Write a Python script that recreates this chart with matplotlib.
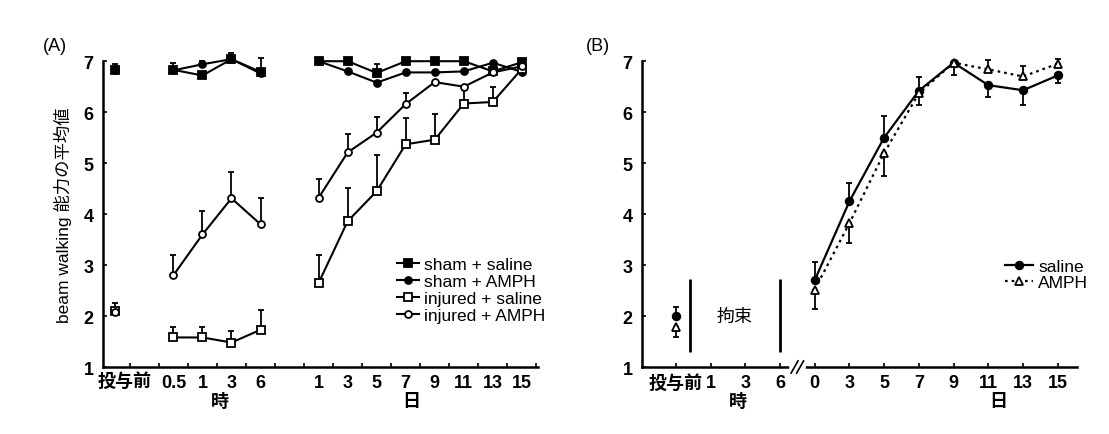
import numpy as np
import matplotlib
matplotlib.use('Agg')
from matplotlib import pyplot as plt

plt.rcParams['font.family'] = ['Liberation Sans', 'Noto Sans CJK JP', 'DejaVu Sans']

# (A) 横軸の目盛ラベル
labels_a = ['投与前', '0.5', '1', '3', '6', '1', '3', '5', '7', '9', '11', '13', '15']
pos_a = [0, 2, 3, 4, 5, 7, 8, 9, 10, 11, 12, 13, 14]

# (A) 各群の平均値と誤差(上方向のみ)
sham_saline = [6.82, 6.83, 6.72, 7.04, 6.79, 7.0, 7.0, 6.77, 7.0, 7.0, 7.0, 6.8, 6.98]
sham_saline_err = [0.13, 0.14, 0, 0.12, 0.27, 0, 0, 0.17, 0, 0, 0, 0, 0]
sham_amph = [6.82, 6.82, 6.94, 7.04, 6.76, 7.0, 6.8, 6.58, 6.78, 6.78, 6.8, 6.97, 6.79]
sham_amph_err = [0, 0, 0.07, 0, 0, 0, 0, 0, 0, 0, 0, 0, 0]
inj_saline = [2.1, 1.58, 1.58, 1.48, 1.73, 2.65, 3.86, 4.45, 5.37, 5.46, 6.17, 6.2, 6.85]
inj_saline_err = [0.16, 0.21, 0.21, 0.22, 0.38, 0.54, 0.65, 0.70, 0.51, 0.50, 0.3, 0.29, 0]
inj_amph = [2.08, 2.8, 3.6, 4.31, 3.8, 4.32, 5.21, 5.6, 6.16, 6.59, 6.5, 6.78, 6.9]
inj_amph_err = [0, 0.39, 0.47, 0.51, 0.51, 0.37, 0.37, 0.31, 0.21, 0, 0, 0, 0]

# (B) 横軸の目盛ラベル
labels_b = ['投与前', '1', '3', '6', '0', '3', '5', '7', '9', '11', '13', '15']
pos_b = [0, 4, 5, 6, 7, 8, 9, 10, 11]   # データのある位置
saline = [2.0, 2.7, 4.25, 5.5, 6.42, 6.97, 6.53, 6.43, 6.72]
saline_up = [0.17, 0.36, 0.36, 0.43, 0.27, 0, 0, 0, 0]
saline_dn = [0, 0, 0, 0, 0, 0, 0.23, 0.29, 0.15]
amph = [1.79, 2.52, 3.82, 5.2, 6.37, 6.97, 6.84, 6.70, 6.95]
amph_up = [0, 0, 0, 0, 0, 0, 0.19, 0.2, 0.1]
amph_dn = [0.2, 0.39, 0.38, 0.45, 0.23, 0.25, 0, 0, 0]

fig = plt.figure(figsize=(11.09, 4.35), dpi=100)
axA = fig.add_axes([0.093, 0.154, 0.392, 0.703])
axB = fig.add_axes([0.579, 0.154, 0.392, 0.703])

for ax in (axA, axB):
    ax.spines['top'].set_visible(False)
    ax.spines['right'].set_visible(False)
    ax.spines['left'].set_linewidth(1.8)
    ax.spines['bottom'].set_linewidth(1.8)
    ax.set_ylim(1, 7)
    ax.set_yticks(range(1, 8))
    ax.tick_params(axis='y', direction='in', length=3, width=1.2, labelsize=13, pad=7)
    for t in ax.get_yticklabels():
        t.set_fontweight('bold')

# ---- (A)
groups = [[0], [1, 2, 3, 4], list(range(5, 13))]
series = [
    (sham_saline, sham_saline_err, 's', 'black', 5.5, 'sham + saline'),
    (sham_amph, sham_amph_err, 'o', 'black', 5, 'sham + AMPH'),
    (inj_saline, inj_saline_err, 's', 'white', 5.5, 'injured + saline'),
    (inj_amph, inj_amph_err, 'o', 'white', 5, 'injured + AMPH'),
]
x_a = np.array(pos_a, dtype=float)
handles = []
for vals, err, mk, fc, ms, lab in series:
    vals = np.array(vals)
    err = np.array(err)
    for g in groups:
        h, = axA.plot(x_a[g], vals[g], '-', color='black', lw=1.5, marker=mk, mfc=fc,
                      mec='black', mew=1.3, ms=ms, clip_on=False, zorder=3)
    handles.append(h)
    m = err > 0
    axA.errorbar(x_a[m], vals[m], yerr=[np.zeros(m.sum()), err[m]], fmt='none',
                 ecolor='black', elinewidth=1.3, capsize=2, capthick=1.3,
                 clip_on=False, zorder=2)

axA.set_xlim(-0.42, 14.55)
axA.set_xticks(pos_a)
axA.set_xticklabels([''] + labels_a[1:])
axA.tick_params(axis='x', length=0, labelsize=13, pad=5)
axA.set_xticks(np.arange(0.5, 15, 1), minor=True)
axA.tick_params(axis='x', which='minor', direction='in', length=3, width=1.2)
for t in axA.get_xticklabels():
    t.set_fontweight('bold')
xtrA = axA.get_xaxis_transform()
# 投与前 は少し右にずれている
axA.text(0.32, -0.017, labels_a[0], transform=xtrA, ha='center', va='top',
         fontsize=13, fontweight='bold')
axA.text(3.6, -0.085, '時', transform=xtrA, ha='center', va='top',
         fontsize=13, fontweight='bold')
axA.text(10.2, -0.085, '日', transform=xtrA, ha='center', va='top',
         fontsize=13, fontweight='bold')
axA.set_ylabel('beam walking 能力の平均値', fontsize=12.5, labelpad=8)
axA.text(-0.138, 1.05, '(A)', transform=axA.transAxes, fontsize=13, va='center')
axA.legend(handles, [s[5] for s in series], loc='upper left',
           bbox_to_anchor=(0.675, 0.36), frameon=False, fontsize=12.5,
           borderpad=0, borderaxespad=0, handlelength=1.3, handletextpad=0.3,
           labelspacing=0.1)

# ---- (B)
x_b = np.array(pos_b, dtype=float)
for vals, up, dn, mk, fc, ls, lab in [
        (saline, saline_up, saline_dn, 'o', 'black', '-', 'saline'),
        (amph, amph_up, amph_dn, '^', 'white', (0, (1.2, 1.8)), 'AMPH')]:
    vals = np.array(vals)
    up = np.array(up)
    dn = np.array(dn)
    axB.plot(x_b[1:], vals[1:], linestyle=ls, color='black', lw=1.6, zorder=2)
    axB.plot(x_b, vals, linestyle='none', marker=mk, mfc=fc, mec='black', mew=1.3,
             ms=5.5, clip_on=False, zorder=3)
    axB.plot([], [], linestyle=ls, color='black', lw=1.6, marker=mk, mfc=fc,
             mec='black', mew=1.3, ms=5.5, label=lab)
    m = (up > 0) | (dn > 0)
    axB.errorbar(x_b[m], vals[m], yerr=[dn[m], up[m]], fmt='none', ecolor='black',
                 elinewidth=1.3, capsize=2.5, capthick=1.3, clip_on=False, zorder=2)

axB.set_xlim(-0.97, 11.55)
axB.set_xticks(range(len(labels_b)))
axB.set_xticklabels(labels_b)
axB.tick_params(axis='x', direction='in', length=3, width=1.2, labelsize=13, pad=5)
for t in axB.get_xticklabels():
    t.set_fontweight('bold')
axB.text(1.8, -0.085, '時', transform=axB.get_xaxis_transform(), ha='center', va='top',
         fontsize=13, fontweight='bold')
axB.text(9.3, -0.085, '日', transform=axB.get_xaxis_transform(), ha='center', va='top',
         fontsize=13, fontweight='bold')
axB.text(-0.13, 1.05, '(B)', transform=axB.transAxes, fontsize=13, va='center')

# 拘束期間
axB.vlines([0.4, 3.0], 1.3, 2.73, color='black', lw=2)
axB.text(1.7, 2.0, '拘束', ha='center', va='center', fontsize=13)

# 軸の切れ目
tr = axB.get_xaxis_transform()
axB.plot([3.35, 3.65], [0, 0], color='white', lw=4, transform=tr, clip_on=False, zorder=4)
for dx in (-0.08, 0.08):
    axB.plot([3.5 + dx - 0.1, 3.5 + dx + 0.1], [-0.02, 0.02], color='black', lw=1.2,
             transform=tr, clip_on=False, zorder=5)

axB.legend(loc='upper left', bbox_to_anchor=(0.835, 0.355), frameon=False, fontsize=12.5,
           borderpad=0, borderaxespad=0, handlelength=1.6, handletextpad=0.3,
           labelspacing=0.1)

fig.savefig('out.png', dpi=100)
